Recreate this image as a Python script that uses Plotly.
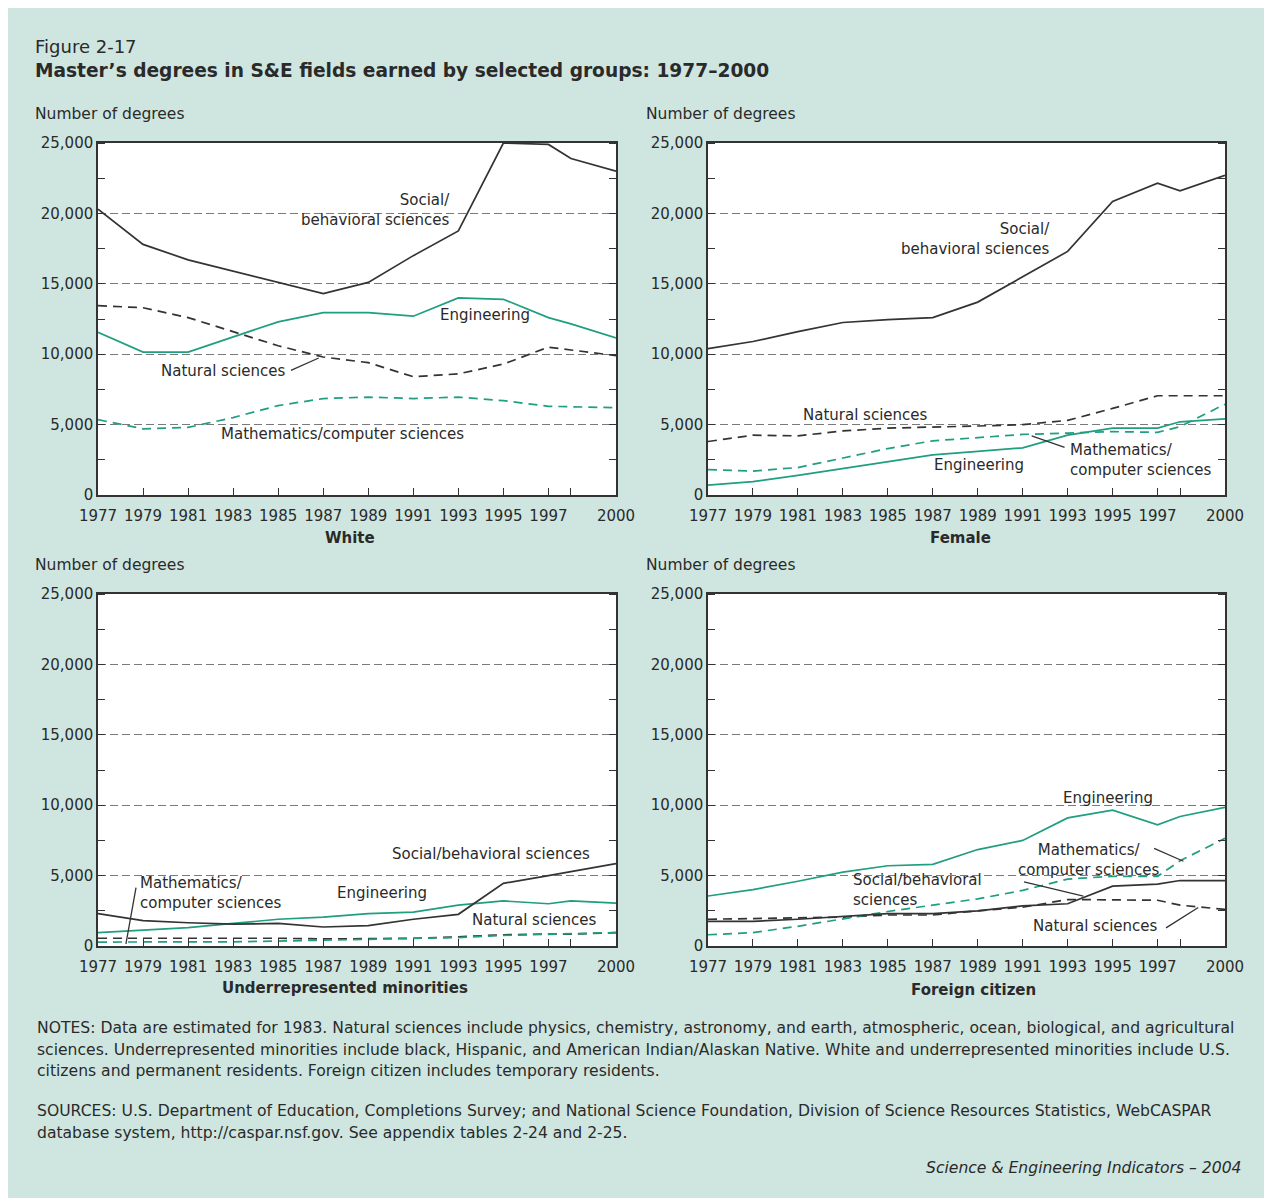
import plotly.graph_objects as go
from plotly.subplots import make_subplots

# page has an 8px body margin, so the figure starts at (8, 8)
OFF = 8
W, H = 1264, 1190

def px(x):
    return (x - OFF) / W

def py(y):
    return 1 - (y - OFF) / H

years = [1977, 1979, 1981, 1983, 1985, 1987, 1989, 1991, 1993, 1995, 1997, 1998, 2000]

# White
white_social = [20300, 17800, 16700, 15900, 15100, 14300, 15100, 17000, 18750, 25000, 24900, 23900, 23000]
white_eng = [11550, 10150, 10150, 11250, 12300, 12950, 12950, 12700, 14000, 13900, 12600, 12150, 11150]
white_nat = [13450, 13300, 12600, 11600, 10600, 9800, 9400, 8400, 8600, 9300, 10500, 10300, 9900]
white_math = [5350, 4700, 4800, 5500, 6350, 6850, 6950, 6850, 6950, 6700, 6300, 6250, 6200]

# Female
female_social = [10400, 10900, 11600, 12250, 12450, 12600, 13700, 15500, 17300, 20850, 22150, 21600, 22700]
female_nat = [3800, 4250, 4200, 4550, 4750, 4800, 4900, 5000, 5300, 6150, 7050, 7050, 7050]
female_math = [1800, 1700, 1950, 2600, 3300, 3850, 4100, 4300, 4400, 4500, 4450, 4850, 6450]
female_eng = [700, 950, 1400, 1900, 2350, 2850, 3100, 3350, 4250, 4750, 4750, 5200, 5400]

# Underrepresented minorities
minor_social = [2300, 1800, 1650, 1550, 1600, 1350, 1450, 1900, 2250, 4450, 5000, 5300, 5850]
minor_eng = [950, 1100, 1300, 1600, 1900, 2050, 2300, 2400, 2900, 3200, 3000, 3200, 3050]
minor_nat = [550, 550, 550, 600, 550, 500, 500, 550, 650, 800, 850, 850, 950]
minor_math = [280, 280, 280, 300, 350, 400, 450, 500, 600, 750, 850, 850, 950]

# Foreign citizen
foreign_eng = [3550, 4000, 4600, 5250, 5700, 5800, 6850, 7500, 9100, 9650, 8600, 9200, 9850]
foreign_math = [800, 950, 1400, 1950, 2450, 2900, 3350, 3950, 4750, 4950, 4950, 6050, 7650]
foreign_social = [1750, 1750, 1900, 2100, 2300, 2300, 2500, 2850, 3000, 4250, 4400, 4650, 4650]
foreign_nat = [1900, 1950, 1950, 2050, 2200, 2200, 2500, 2750, 3300, 3300, 3250, 2900, 2600]

panel_titles = ["White", "Female", "Underrepresented minorities", "Foreign citizen"]

xtick_vals = [1977, 1979, 1981, 1983, 1985, 1987, 1989, 1991, 1993, 1995, 1997, 1998, 2000]
xtick_text = ["1977", "1979", "1981", "1983", "1985", "1987", "1989", "1991", "1993", "1995", "1997", "", "2000"]
ytick_vals = [0, 5000, 10000, 15000, 20000, 25000]
ytick_text = ["0", "5,000", "10,000", "15,000", "20,000", "25,000"]

notes = [
    "NOTES: Data are estimated for 1983. Natural sciences include physics, chemistry, astronomy, and earth, atmospheric, ocean, biological, and agricultural",
    "sciences. Underrepresented minorities include black, Hispanic, and American Indian/Alaskan Native. White and underrepresented minorities include U.S.",
    "citizens and permanent residents. Foreign citizen includes temporary residents.",
]
sources = [
    "SOURCES: U.S. Department of Education, Completions Survey; and National Science Foundation, Division of Science Resources Statistics, WebCASPAR",
    "database system, http://caspar.nsf.gov. See appendix tables 2-24 and 2-25.",
]

BG = "#cfe6e0"
DARK = "#333333"
GREEN = "#1f9e80"
FONT = "DejaVu Sans"
TXT = "#2a2a2a"

fig = make_subplots(rows=2, cols=2)

panels = [
    (1, 1, white_social, white_eng, white_nat, white_math),
    (1, 2, female_social, female_eng, female_nat, female_math),
    (2, 1, minor_social, minor_eng, minor_nat, minor_math),
    (2, 2, foreign_social, foreign_eng, foreign_nat, foreign_math),
]
for r, c, soc, eng, nat, mat in panels:
    fig.add_trace(go.Scatter(x=years, y=nat, mode="lines", line=dict(color=DARK, width=1.7, dash="9px,6px")), row=r, col=c)
    fig.add_trace(go.Scatter(x=years, y=mat, mode="lines", line=dict(color=GREEN, width=1.7, dash="9px,6px")), row=r, col=c)
    fig.add_trace(go.Scatter(x=years, y=eng, mode="lines", line=dict(color=GREEN, width=1.7)), row=r, col=c)
    fig.add_trace(go.Scatter(x=years, y=soc, mode="lines", line=dict(color=DARK, width=1.7)), row=r, col=c)

xdom = [[px(98), px(616)], [px(708), px(1225)]]
ydom = [[py(495), py(143)], [py(946), py(594)]]

for r, c in [(1, 1), (1, 2), (2, 1), (2, 2)]:
    fig.update_xaxes(row=r, col=c, domain=xdom[c - 1], range=[1977, 2000],
                     tickvals=xtick_vals, ticktext=xtick_text, ticks="inside", ticklen=7,
                     tickcolor=DARK, tickwidth=1.2, showgrid=False, zeroline=False,
                     showline=True, linecolor=DARK, linewidth=1.5, mirror=True,
                     ticklabelstandoff=6, automargin=False,
                     tickfont=dict(family=FONT, size=15, color=TXT))
    fig.update_yaxes(row=r, col=c, domain=ydom[r - 1], range=[0, 25000],
                     tickvals=ytick_vals, ticktext=ytick_text, ticks="",
                     showgrid=True, gridcolor="#7a7a7a", gridwidth=1, griddash="8px,4px",
                     zeroline=False, showline=True, linecolor=DARK, linewidth=1.5, mirror="ticks",
                     automargin=False,
                     minor=dict(dtick=2500, ticks="inside", ticklen=7, tickcolor=DARK, tickwidth=1.2, showgrid=False),
                     tickfont=dict(family=FONT, size=15, color=TXT))

ann = []

def label(text, x, y, xa="center", ya="middle", size=15, bold=False, italic=False, align="left"):
    if bold:
        text = "<b>" + text + "</b>"
    if italic:
        text = "<i>" + text + "</i>"
    ann.append(dict(text=text, x=x, y=y, xref="paper", yref="paper", xanchor=xa, yanchor=ya,
                    showarrow=False, align=align, font=dict(family=FONT, size=size, color=TXT)))

label("Figure 2-17", px(33), py(46), xa="left", size=18)
label("Master’s degrees in S&E fields earned by selected groups: 1977–2000", px(33), py(70), xa="left", size=18.6, bold=True)
label("Number of degrees", px(33), py(114), xa="left", size=15.5)
label("Number of degrees", px(644), py(114), xa="left", size=15.5)
label("Number of degrees", px(33), py(565), xa="left", size=15.5)
label("Number of degrees", px(644), py(565), xa="left", size=15.5)

title_pos = [(350, 538), (960, 538), (345, 988), (973, 990)]
for t, (x, y) in zip(panel_titles, title_pos):
    label(t, px(x), py(y), bold=True)

for i, line in enumerate(notes):
    label(line, px(35), py(1028 + i * 21.5), xa="left", size=15.6)
for i, line in enumerate(sources):
    label(line, px(35), py(1111 + i * 21.5), xa="left", size=15.6)
label("Science & Engineering Indicators – 2004", px(1243), py(1168), xa="right", size=15.6, italic=True)


def dlabel(text, xr, yr, x, y, xa="center", align="center"):
    ann.append(dict(text=text, x=x, y=y, xref=xr, yref=yr, xanchor=xa, yanchor="middle",
                    showarrow=False, align=align, font=dict(family=FONT, size=15, color=TXT)))


def leader(xr, yr, tailx, taily, tipx, tipy):
    # arrow-only annotation: a plain leader line from the label to the curve
    ann.append(dict(text="", x=tipx, y=tipy, ax=tailx, ay=taily, xref=xr, yref=yr, axref=xr, ayref=yr,
                    showarrow=True, arrowhead=0, arrowwidth=1.3, arrowcolor=DARK, standoff=0))

# White
dlabel("Social/<br>behavioral sciences", "x", "y", 1992.7, 20250, xa="right", align="right")
dlabel("Engineering", "x", "y", 1994.2, 12750)
dlabel("Natural sciences", "x", "y", 1985.45, 8830, xa="right")
leader("x", "y", 1985.5, 8810, 1986.8, 9730)
dlabel("Mathematics/computer sciences", "x", "y", 1987.85, 4350)

# Female
dlabel("Social/<br>behavioral sciences", "x2", "y2", 1992.3, 18150, xa="right", align="right")
dlabel("Natural sciences", "x2", "y2", 1984.0, 5650)
dlabel("Engineering", "x2", "y2", 1989.05, 2100)
dlabel("Mathematics/<br>computer sciences", "x2", "y2", 1993.0, 2520, xa="left", align="left")
leader("x2", "y2", 1992.93, 3340, 1991.4, 4200)

# Underrepresented minorities
dlabel("Social/behavioral sciences", "x3", "y3", 1994.45, 6530)
dlabel("Engineering", "x3", "y3", 1989.6, 3730)
dlabel("Natural sciences", "x3", "y3", 1996.4, 1830)
dlabel("Mathematics/<br>computer sciences", "x3", "y3", 1978.78, 3730, xa="left", align="left")
leader("x3", "y3", 1978.7, 4260, 1978.24, 150)

# Foreign citizen
dlabel("Engineering", "x4", "y4", 1994.8, 10500)
dlabel("Mathematics/<br>computer sciences", "x4", "y4", 1993.95, 6110)
leader("x4", "y4", 1996.78, 6980, 1998.15, 6020)
dlabel("Social/behavioral<br>sciences", "x4", "y4", 1983.36, 4010, xa="left", align="left")
leader("x4", "y4", 1990.99, 4580, 1993.7, 3550)
dlabel("Natural sciences", "x4", "y4", 1994.25, 1420)
leader("x4", "y4", 1997.31, 1220, 1998.81, 2730)

fig.update_layout(
    width=W, height=H,
    margin=dict(l=0, r=0, t=0, b=0, autoexpand=False),
    paper_bgcolor=BG, plot_bgcolor="white",
    showlegend=False,
    annotations=ann,
    font=dict(family=FONT, color=TXT),
)

fig.write_html("out.html")
